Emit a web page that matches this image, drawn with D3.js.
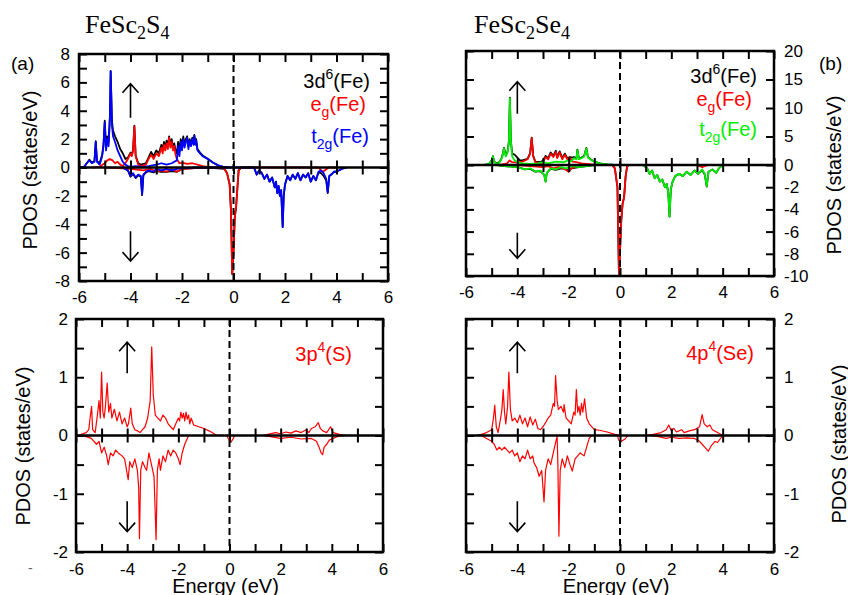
<!DOCTYPE html>
<html>
<head>
<meta charset="utf-8">
<script src="https://cdnjs.cloudflare.com/ajax/libs/d3/7.8.5/d3.min.js"></script>
<style>
body { margin: 0; background: #fff; }
text { font-family: "Liberation Sans", Arial, sans-serif; }
</style>
</head>
<body>
<div id="chart"></div>
<script>
// ---- data: [energy (eV), PDOS (states/eV)] ----

// FeSc2S4, Fe d states
var aTotUp = [[-6,0],[-5.8,0.05],[-5.7,0.3],[-5.6,0.55],[-5.5,0.35],[-5.4,0.45],[-5.35,1.85],[-5.3,0.45],[-5.2,0.3],[-5.1,0.9],[-5.05,1.6],[-5.0,3.3],[-4.95,1.5],[-4.9,2.2],[-4.85,1.8],[-4.8,3.6],[-4.77,6.8],[-4.72,3.3],[-4.68,2.6],[-4.6,2.2],[-4.5,1.8],[-4.4,1.3],[-4.3,1.0],[-4.2,0.6],[-4.1,0.7],[-4.0,1.05],[-3.95,0.85],[-3.9,1.25],[-3.85,2.95],[-3.8,0.85],[-3.7,0.3],[-3.6,0.2],[-3.4,0.3],[-3.3,0.7],[-3.2,1.1],[-3.1,0.8],[-3.0,1.2],[-2.9,1.0],[-2.8,1.6],[-2.75,1.2],[-2.7,1.8],[-2.65,1.4],[-2.6,1.9],[-2.55,1.5],[-2.5,2.2],[-2.45,1.6],[-2.4,2.0],[-2.35,1.4],[-2.3,1.7],[-2.25,1.2],[-2.2,1.0],[-2.15,1.8],[-2.1,1.1],[-2.05,2.0],[-2.0,1.5],[-1.95,2.2],[-1.9,1.6],[-1.85,2.0],[-1.8,2.2],[-1.75,1.5],[-1.7,2.0],[-1.65,1.6],[-1.6,2.1],[-1.55,1.7],[-1.52,2.3],[-1.48,1.7],[-1.45,2.0],[-1.4,1.3],[-1.3,1.05],[-1.2,0.85],[-1.0,0.62],[-0.8,0.35],[-0.6,0.15],[-0.4,0.05],[-0.2,0]];
var aEgUp = [[-5.5,0],[-5.2,0.05],[-5.0,0.3],[-4.9,0.5],[-4.8,0.6],[-4.7,0.5],[-4.6,0.3],[-4.5,0.4],[-4.4,0.2],[-4.3,0.1],[-4.2,0.3],[-4.1,0.6],[-4.0,1.0],[-3.95,0.8],[-3.9,1.2],[-3.85,2.9],[-3.8,0.8],[-3.7,0.2],[-3.6,0.1],[-3.4,0.2],[-3.3,0.6],[-3.2,0.9],[-3.1,0.6],[-3.0,1.0],[-2.9,0.8],[-2.8,1.4],[-2.75,1.0],[-2.7,1.6],[-2.65,1.2],[-2.6,1.7],[-2.55,1.3],[-2.5,2.1],[-2.45,1.4],[-2.4,1.8],[-2.35,1.2],[-2.3,1.5],[-2.25,0.9],[-2.2,0.6],[-2.1,0.3],[-2.0,0.35],[-1.8,0.25],[-1.6,0.3],[-1.4,0.2],[-1.2,0.1],[-1.0,0.05],[-0.8,0]];
var aT2gUp = [[-6,0],[-5.8,0.05],[-5.7,0.3],[-5.6,0.5],[-5.5,0.3],[-5.4,0.4],[-5.35,1.8],[-5.3,0.4],[-5.2,0.2],[-5.1,0.8],[-5.05,1.5],[-5.0,3.2],[-4.95,1.2],[-4.9,2.0],[-4.85,1.5],[-4.8,3.5],[-4.77,6.8],[-4.72,3.0],[-4.68,2.2],[-4.6,1.8],[-4.5,1.2],[-4.4,0.8],[-4.3,0.4],[-4.2,0.2],[-4.1,0.1],[-4.0,0.05],[-3.8,0.1],[-3.5,0.05],[-3.3,0.1],[-3.0,0.2],[-2.8,0.3],[-2.6,0.2],[-2.4,0.3],[-2.2,0.5],[-2.15,1.5],[-2.1,0.8],[-2.05,1.8],[-2.0,1.2],[-1.95,2.0],[-1.9,1.4],[-1.85,1.8],[-1.8,2.1],[-1.75,1.3],[-1.7,1.9],[-1.65,1.5],[-1.6,2.0],[-1.55,1.6],[-1.52,2.25],[-1.48,1.6],[-1.45,1.9],[-1.4,1.2],[-1.3,1.0],[-1.2,0.8],[-1.0,0.6],[-0.8,0.35],[-0.6,0.15],[-0.4,0.05],[-0.2,0]];
var aTotDn = [[-4.3,0],[-4.1,-0.2],[-4.0,-0.65],[-3.9,-0.45],[-3.8,-0.75],[-3.7,-0.55],[-3.6,-0.65],[-3.55,-1.95],[-3.5,-0.55],[-3.4,-0.35],[-3.3,-0.25],[-3.1,-0.35],[-3.0,-0.25],[-2.8,-0.3],[-2.6,-0.3],[-2.4,-0.25],[-2.2,-0.3],[-2.0,-0.1],[-1.5,-0.05],[-1.0,0],[-0.35,-0.1],[-0.25,-0.4],[-0.15,-1.2],[-0.1,-3.0],[-0.05,-7.5],[0.0,-6.0],[0.05,-3.5],[0.1,-2.8],[0.15,-1.5],[0.2,-0.2],[0.3,0],[0.8,0],[0.9,-0.5],[1.0,-0.2],[1.1,-0.4],[1.2,-0.8],[1.3,-0.5],[1.4,-1.0],[1.5,-0.7],[1.6,-1.4],[1.65,-1.0],[1.7,-1.8],[1.75,-1.3],[1.8,-2.0],[1.85,-1.6],[1.91,-4.2],[1.95,-2.0],[2.0,-1.2],[2.1,-0.6],[2.2,-0.9],[2.3,-0.5],[2.4,-0.8],[2.5,-0.4],[2.6,-0.9],[2.7,-0.5],[2.8,-0.7],[2.9,-0.4],[3.0,-1.0],[3.1,-0.6],[3.2,-0.9],[3.3,-0.35],[3.4,-0.4],[3.5,-0.6],[3.6,-0.9],[3.66,-1.8],[3.72,-0.6],[3.8,-0.5],[3.9,-0.3],[4.0,-0.3],[4.2,-0.1],[4.4,0]];
var aEgDn = [[-5.0,0],[-4.5,-0.05],[-4.0,-0.1],[-3.5,-0.2],[-3.2,-0.1],[-3.0,-0.3],[-2.8,-0.2],[-2.6,-0.3],[-2.4,-0.1],[-2.2,-0.3],[-2.0,-0.1],[-1.5,-0.05],[-1.0,0],[-0.5,0],[-0.35,-0.1],[-0.25,-0.4],[-0.15,-1.2],[-0.1,-3.0],[-0.05,-7.5],[0.0,-6.0],[0.05,-3.5],[0.1,-2.8],[0.15,-1.5],[0.2,-0.2],[0.3,0],[1.0,0],[3.3,0],[3.45,-0.3],[3.55,-0.2],[3.7,0],[4,0]];
var aT2gDn = [[-4.3,0],[-4.1,-0.2],[-4.0,-0.6],[-3.9,-0.4],[-3.8,-0.7],[-3.7,-0.5],[-3.6,-0.6],[-3.55,-1.9],[-3.5,-0.5],[-3.4,-0.3],[-3.3,-0.2],[-3.1,-0.3],[-3.0,-0.1],[-2.8,-0.2],[-2.6,-0.1],[-2.4,-0.2],[-2.2,-0.1],[-2.0,-0.05],[-1.5,0],[0.8,0],[0.9,-0.5],[1.0,-0.2],[1.1,-0.4],[1.2,-0.8],[1.3,-0.5],[1.4,-1.0],[1.5,-0.7],[1.6,-1.4],[1.65,-1.0],[1.7,-1.8],[1.75,-1.3],[1.8,-2.0],[1.85,-1.6],[1.91,-4.2],[1.95,-2.0],[2.0,-1.2],[2.1,-0.6],[2.2,-0.9],[2.3,-0.5],[2.4,-0.8],[2.5,-0.4],[2.6,-0.9],[2.7,-0.5],[2.8,-0.7],[2.9,-0.4],[3.0,-1.0],[3.1,-0.6],[3.2,-0.9],[3.3,-0.3],[3.4,-0.2],[3.5,-0.4],[3.6,-0.8],[3.66,-1.75],[3.72,-0.6],[3.8,-0.5],[3.9,-0.3],[4.0,-0.3],[4.2,-0.1],[4.4,0]];

// FeSc2Se4, Fe d states
var bTotUp = [[-5.3,0],[-5.1,0.2],[-5.0,0.85],[-4.95,1.55],[-4.9,0.55],[-4.8,0.3],[-4.7,0.5],[-4.6,1.3],[-4.52,3.0],[-4.45,1.7],[-4.38,2.4],[-4.33,4.1],[-4.29,11.8],[-4.25,4.2],[-4.2,2.0],[-4.1,1.8],[-4.0,1.3],[-3.9,0.8],[-3.8,0.8],[-3.6,1.1],[-3.5,2.1],[-3.44,4.8],[-3.38,1.6],[-3.3,0.6],[-3.1,0.5],[-3.0,0.8],[-2.9,1.6],[-2.8,1.2],[-2.7,2.2],[-2.6,1.6],[-2.5,2.5],[-2.45,1.4],[-2.35,2.4],[-2.25,1.2],[-2.15,2.0],[-2.05,1.2],[-1.95,1.4],[-1.85,1.3],[-1.8,1.4],[-1.7,1.1],[-1.66,2.7],[-1.6,1.1],[-1.5,1.3],[-1.4,1.6],[-1.31,3.0],[-1.25,1.4],[-1.1,0.85],[-1.0,0.62],[-0.8,0.3],[-0.5,0.1],[-0.2,0]];
var bEgUp = [[-5.0,0],[-4.6,0.1],[-4.4,0.3],[-4.3,0.8],[-4.2,0.5],[-4.0,0.4],[-3.8,0.6],[-3.6,1.0],[-3.5,2.0],[-3.44,4.7],[-3.38,1.5],[-3.3,0.5],[-3.1,0.3],[-3.0,0.5],[-2.9,1.4],[-2.8,1.0],[-2.7,2.0],[-2.6,1.4],[-2.5,2.3],[-2.45,1.2],[-2.35,2.2],[-2.25,1.0],[-2.15,1.8],[-2.05,1.0],[-1.95,1.2],[-1.85,0.6],[-1.7,0.5],[-1.5,0.3],[-1.3,0.2],[-1.0,0.05],[-0.8,0]];
var bT2gUp = [[-5.3,0],[-5.1,0.2],[-5.0,0.8],[-4.95,1.5],[-4.9,0.5],[-4.8,0.2],[-4.7,0.4],[-4.6,1.2],[-4.52,2.9],[-4.45,1.5],[-4.38,2.2],[-4.33,4],[-4.29,11.7],[-4.25,4.0],[-4.2,1.5],[-4.1,0.8],[-4.0,0.5],[-3.8,0.3],[-3.5,0.2],[-3.2,0.3],[-3.0,0.5],[-2.8,0.3],[-2.5,0.6],[-2.2,0.5],[-2.0,0.8],[-1.9,0.6],[-1.8,1.2],[-1.7,1.0],[-1.66,2.6],[-1.6,1.0],[-1.5,1.2],[-1.4,1.5],[-1.31,2.9],[-1.25,1.3],[-1.1,0.8],[-1.0,0.6],[-0.8,0.3],[-0.5,0.1],[-0.2,0]];
var bTotDn = [[-4.8,0],[-4.5,-0.1],[-4.0,-0.2],[-3.7,-0.4],[-3.5,-0.35],[-3.3,-0.6],[-3.1,-0.55],[-2.95,-0.9],[-2.9,-1.5],[-2.85,-0.7],[-2.7,-0.35],[-2.5,-0.45],[-2.3,-0.3],[-2.1,-0.35],[-2.0,-0.6],[-1.9,-0.3],[-1.6,-0.2],[-1.3,-0.1],[-1.0,0],[-0.3,0],[-0.2,-0.3],[-0.1,-2.0],[-0.04,-10],[0.05,-5.0],[0.1,-3.5],[0.16,-2.9],[0.22,-1.0],[0.28,-0.1],[0.35,0],[0.9,0],[1.06,-0.3],[1.15,-0.8],[1.25,-0.5],[1.35,-1.2],[1.45,-0.9],[1.55,-1.5],[1.65,-1.3],[1.75,-2.0],[1.82,-1.7],[1.88,-2.5],[1.93,-4.65],[1.98,-2.2],[2.05,-1.5],[2.15,-1.0],[2.3,-0.8],[2.45,-1.0],[2.6,-0.6],[2.75,-0.9],[2.9,-0.5],[3.05,-0.8],[3.2,-0.45],[3.3,-0.85],[3.38,-1.95],[3.45,-0.6],[3.6,-0.4],[3.75,-0.7],[3.85,-0.3],[4.0,0]];
var bEgDn = [[-4.0,0],[-3.5,-0.1],[-3.0,-0.2],[-2.8,-0.1],[-2.6,-0.3],[-2.4,-0.2],[-2.2,-0.3],[-2.0,-0.6],[-1.9,-0.3],[-1.7,-0.1],[-1.5,0],[-0.3,0],[-0.2,-0.3],[-0.1,-2.0],[-0.04,-10],[0.05,-5.0],[0.1,-3.5],[0.16,-2.9],[0.22,-1.0],[0.28,-0.1],[0.35,0],[3.0,0],[3.2,-0.2],[3.3,-0.1],[3.4,0]];
var bT2gDn = [[-4.8,0],[-4.5,-0.1],[-4.0,-0.2],[-3.7,-0.4],[-3.5,-0.3],[-3.3,-0.6],[-3.1,-0.5],[-2.95,-0.9],[-2.9,-1.5],[-2.85,-0.7],[-2.7,-0.3],[-2.5,-0.4],[-2.3,-0.2],[-2.1,-0.3],[-1.9,-0.1],[-1.6,-0.2],[-1.3,-0.1],[-1.0,0],[0.9,0],[1.06,-0.3],[1.15,-0.8],[1.25,-0.5],[1.35,-1.2],[1.45,-0.9],[1.55,-1.5],[1.65,-1.3],[1.75,-2.0],[1.82,-1.7],[1.88,-2.5],[1.93,-4.65],[1.98,-2.2],[2.05,-1.5],[2.15,-1.0],[2.3,-0.8],[2.45,-1.0],[2.6,-0.6],[2.75,-0.9],[2.9,-0.5],[3.05,-0.8],[3.2,-0.4],[3.3,-0.8],[3.38,-1.9],[3.45,-0.6],[3.6,-0.4],[3.75,-0.7],[3.85,-0.3],[4.0,0]];

// S 3p and Se 4p
var cUp = [[-6,0],[-5.8,0.02],[-5.6,0.05],[-5.5,0.1],[-5.45,0.3],[-5.39,0.5],[-5.35,0.1],[-5.25,0.05],[-5.15,0.4],[-5.1,0.6],[-5.05,0.3],[-5.0,1.09],[-4.95,0.4],[-4.9,0.3],[-4.85,0.5],[-4.78,0.9],[-4.72,0.4],[-4.65,0.55],[-4.6,0.3],[-4.5,0.45],[-4.4,0.25],[-4.3,0.4],[-4.2,0.2],[-4.1,0.3],[-4.0,0.15],[-3.95,0.2],[-3.86,0.47],[-3.8,0.2],[-3.7,0.1],[-3.6,0.08],[-3.5,0.05],[-3.4,0.1],[-3.3,0.15],[-3.2,0.3],[-3.1,0.6],[-3.04,1.52],[-2.98,0.7],[-2.9,0.35],[-2.8,0.3],[-2.7,0.25],[-2.6,0.35],[-2.5,0.3],[-2.4,0.2],[-2.3,0.15],[-2.2,0.1],[-2.1,0.2],[-2.0,0.3],[-1.95,0.25],[-1.9,0.4],[-1.85,0.3],[-1.8,0.38],[-1.75,0.25],[-1.7,0.4],[-1.65,0.28],[-1.6,0.35],[-1.55,0.2],[-1.5,0.3],[-1.4,0.18],[-1.2,0.15],[-1.0,0.12],[-0.8,0.08],[-0.6,0.03],[-0.5,0],[0.0,0],[1.3,0],[1.5,0.02],[1.8,0.05],[2.0,0.03],[2.2,0.06],[2.4,0.04],[2.6,0.08],[2.8,0.05],[3.0,0.1],[3.1,0.05],[3.2,0.12],[3.35,0.15],[3.47,0.22],[3.55,0.12],[3.65,0.08],[3.8,0.05],[3.95,0.15],[4.05,0.05],[4.3,0.02],[4.6,0]];
var cDn = [[-6,0],[-5.6,-0.02],[-5.4,-0.05],[-5.2,-0.15],[-5.1,-0.1],[-5.0,-0.3],[-4.9,-0.2],[-4.8,-0.35],[-4.74,-0.5],[-4.65,-0.3],[-4.55,-0.35],[-4.45,-0.25],[-4.35,-0.3],[-4.2,-0.35],[-4.1,-0.4],[-3.96,-0.76],[-3.9,-0.45],[-3.8,-0.55],[-3.7,-0.4],[-3.6,-0.6],[-3.55,-0.9],[-3.52,-1.77],[-3.47,-0.6],[-3.4,-0.45],[-3.3,-0.55],[-3.24,-0.6],[-3.15,-0.3],[-3.05,-0.5],[-2.95,-0.7],[-2.87,-1.79],[-2.82,-0.6],[-2.75,-0.4],[-2.7,-0.6],[-2.6,-0.35],[-2.5,-0.45],[-2.4,-0.25],[-2.3,-0.35],[-2.2,-0.25],[-2.1,-0.3],[-2.0,-0.4],[-1.93,-0.5],[-1.85,-0.3],[-1.75,-0.15],[-1.65,-0.05],[-1.6,0],[-0.1,0],[-0.05,-0.05],[0.05,-0.12],[0.15,-0.05],[0.2,0],[1.3,0],[1.6,-0.02],[2.0,-0.05],[2.4,-0.03],[2.8,-0.06],[3.2,-0.05],[3.4,-0.1],[3.5,-0.2],[3.58,-0.3],[3.64,-0.33],[3.7,-0.2],[3.8,-0.15],[3.9,-0.08],[4.2,-0.02],[4.5,0]];
var dUp = [[-5.6,0],[-5.4,0.02],[-5.2,0.05],[-5.0,0.1],[-4.93,0.3],[-4.88,0.52],[-4.82,0.15],[-4.75,0.05],[-4.65,0.3],[-4.6,0.45],[-4.55,0.79],[-4.5,0.4],[-4.45,0.2],[-4.38,0.5],[-4.33,1.09],[-4.27,0.45],[-4.2,0.25],[-4.1,0.3],[-4.0,0.22],[-3.9,0.35],[-3.8,0.2],[-3.7,0.3],[-3.6,0.15],[-3.5,0.32],[-3.4,0.18],[-3.3,0.28],[-3.2,0.12],[-3.1,0.1],[-3.0,0.15],[-2.9,0.22],[-2.8,0.3],[-2.7,0.35],[-2.6,0.55],[-2.55,0.5],[-2.51,1.03],[-2.45,0.6],[-2.4,0.45],[-2.3,0.5],[-2.2,0.4],[-2.18,0.53],[-2.1,0.3],[-2.0,0.25],[-1.9,0.2],[-1.8,0.4],[-1.75,0.35],[-1.7,0.79],[-1.65,0.4],[-1.6,0.5],[-1.55,0.35],[-1.5,0.55],[-1.45,0.4],[-1.38,0.63],[-1.3,0.3],[-1.2,0.2],[-1.0,0.1],[-0.8,0.09],[-0.5,0.06],[-0.2,0.02],[0,0],[1.0,0],[1.3,0.02],[1.6,0.05],[1.8,0.1],[1.9,0.18],[2.0,0.08],[2.1,0.12],[2.2,0.06],[2.4,0.1],[2.5,0.05],[2.7,0.08],[2.9,0.1],[3.1,0.15],[3.2,0.36],[3.28,0.2],[3.4,0.15],[3.5,0.18],[3.6,0.1],[3.8,0.05],[4.0,0],[5.9,0],[6,0.02]];
var dDn = [[-5.4,0],[-5.2,-0.05],[-5.0,-0.1],[-4.9,-0.15],[-4.8,-0.25],[-4.7,-0.2],[-4.6,-0.25],[-4.5,-0.2],[-4.4,-0.25],[-4.3,-0.3],[-4.2,-0.25],[-4.1,-0.35],[-4.0,-0.3],[-3.9,-0.45],[-3.8,-0.35],[-3.7,-0.4],[-3.6,-0.25],[-3.5,-0.4],[-3.4,-0.35],[-3.35,-0.47],[-3.25,-0.55],[-3.15,-0.7],[-3.05,-0.6],[-2.96,-1.14],[-2.9,-0.6],[-2.8,-0.4],[-2.7,-0.5],[-2.6,-0.3],[-2.5,-0.1],[-2.45,-0.02],[-2.42,-0.5],[-2.38,-1.73],[-2.33,-0.6],[-2.25,-0.4],[-2.15,-0.55],[-2.05,-0.35],[-1.95,-0.5],[-1.86,-0.61],[-1.75,-0.4],[-1.65,-0.35],[-1.55,-0.3],[-1.4,-0.35],[-1.3,-0.2],[-1.2,-0.05],[-1.1,0],[-0.1,0],[-0.05,-0.08],[0.05,-0.1],[0.2,-0.06],[0.3,0],[1.2,0],[1.5,-0.02],[1.8,-0.05],[2.0,-0.03],[2.3,-0.05],[2.6,-0.04],[2.9,-0.05],[3.1,-0.1],[3.2,-0.15],[3.3,-0.2],[3.44,-0.27],[3.55,-0.18],[3.7,-0.1],[3.8,-0.12],[3.9,-0.06],[4.0,0]];

// ---- ticks ----
var xLabels = [-6, -4, -2, 0, 2, 4, 6];
var xTicks = [-6, -5, -4, -3, -2, -1, 0, 1, 2, 3, 4, 5, 6];
var yTicksA = [-8, -7, -6, -5, -4, -3, -2, -1, 0, 1, 2, 3, 4, 5, 6, 7, 8];
var yLabelsA = [-8, -6, -4, -2, 0, 2, 4, 6, 8];
var yTicksB = [-10, -8, -6, -4, -2, 0, 5, 10, 15, 20];
var yTicksC = [-2, -1.5, -1, -0.5, 0, 0.5, 1, 1.5, 2];
var yLabelsC = [-2, -1, 0, 1, 2];

var W = 848, H = 595;
var svg = d3.select("#chart").append("svg")
    .attr("width", W)
    .attr("height", H)
    .style("background", "#fff");

function drawPanel(p) {
    var x = d3.scaleLinear().domain([-6, 6]).range([p.left, p.right]);
    var y = d3.scaleLinear().domain(p.yDomain).range(p.yRange);
    var g = svg.append("g");

    g.append("clipPath").attr("id", "clip" + p.name)
      .append("rect")
        .attr("x", p.left).attr("y", p.top)
        .attr("width", p.right - p.left).attr("height", p.bottom - p.top);

    var line = d3.line()
        .x(function(d) { return x(d[0]); })
        .y(function(d) { return y(d[1]); });

    var curves = g.append("g").attr("clip-path", "url(#clip" + p.name + ")");
    p.series.forEach(function(s) {
        curves.append("path")
            .attr("d", line(s.data))
            .style("fill", "none")
            .style("stroke", s.color)
            .style("stroke-width", p.lw)
            .style("stroke-linejoin", "round");
    });

    // Fermi level
    g.append("line")
        .attr("x1", x(0)).attr("x2", x(0))
        .attr("y1", p.top).attr("y2", p.bottom)
        .style("stroke", "#000")
        .style("stroke-width", 2)
        .style("stroke-dasharray", "7,4");

    // zero line with crossing ticks
    g.append("line")
        .attr("x1", p.left).attr("x2", p.right)
        .attr("y1", y(0)).attr("y2", y(0))
        .style("stroke", "#000").style("stroke-width", 2.5);
    [d3.axisBottom(x), d3.axisTop(x)].forEach(function(ax) {
        g.append("g")
            .attr("transform", "translate(0," + y(0) + ")")
            .call(ax.tickValues(xTicks).tickSize(7).tickFormat(""))
            .call(function(s) { s.select(".domain").remove(); })
            .selectAll("line").style("stroke-width", 2);
    });

    // frame ticks
    var tickStyle = function(s) {
        s.select(".domain").remove();
        s.selectAll("line").style("stroke-width", 2);
        s.selectAll("text")
            .style("font-family", "'Liberation Sans', Arial, sans-serif")
            .style("font-size", "17px")
            .style("fill", "#000");
    };
    g.append("g")
        .attr("transform", "translate(0," + p.bottom + ")")
        .call(d3.axisBottom(x).tickValues(xTicks).tickSize(-8).tickPadding(p.xPad)
            .tickFormat(function(d) { return xLabels.indexOf(d) >= 0 ? String(d) : ""; }))
        .call(tickStyle);
    g.append("g")
        .attr("transform", "translate(0," + p.top + ")")
        .call(d3.axisTop(x).tickValues(xTicks).tickSize(-8).tickFormat(""))
        .call(tickStyle);

    var labFmt = function(d) { return p.yLabels.indexOf(d) >= 0 ? String(d) : ""; };
    var leftAx = d3.axisLeft(y).tickValues(p.yTicks).tickSize(-8).tickPadding(p.yPad)
        .tickFormat(p.side == "left" ? labFmt : "");
    var rightAx = d3.axisRight(y).tickValues(p.yTicks).tickSize(-8).tickPadding(p.yPad)
        .tickFormat(p.side == "right" ? labFmt : "");
    g.append("g").attr("transform", "translate(" + p.left + ",0)").call(leftAx).call(tickStyle);
    g.append("g").attr("transform", "translate(" + p.right + ",0)").call(rightAx).call(tickStyle);

    g.append("rect")
        .attr("x", p.left).attr("y", p.top)
        .attr("width", p.right - p.left).attr("height", p.bottom - p.top)
        .style("fill", "none").style("stroke", "#000").style("stroke-width", 2.5);

    // spin arrows at E = -4
    var arrow = function(yTail, yTip) {
        var xa = x(-4), t = y(yTip), dir = y(yTail) > t ? 1 : -1;
        g.append("path")
            .attr("d", "M" + xa + "," + y(yTail) + "L" + xa + "," + t +
                       "M" + (xa - 8) + "," + (t + 9 * dir) + "L" + xa + "," + t + "L" + (xa + 8) + "," + (t + 9 * dir))
            .style("fill", "none").style("stroke", "#000").style("stroke-width", 1.6);
    };
    arrow(p.upArrow[0], p.upArrow[1]);
    arrow(p.dnArrow[0], p.dnArrow[1]);

    // y axis title
    g.append("text")
        .attr("transform", "translate(" + p.titleX + "," + p.titleY + ") rotate(-90)")
        .attr("text-anchor", "middle")
        .style("font-size", "20px")
        .text("PDOS (states/eV)");

    // legend
    p.legend.forEach(function(l) {
        var t = g.append("text")
            .attr("x", l.x).attr("y", l.y)
            .attr("text-anchor", "end")
            .style("font-size", "20px")
            .style("fill", l.color);
        t.append("tspan").text(l.base);
        t.append("tspan").attr("dy", l.sup ? -9 : 6).style("font-size", "14px").text(l.sup || l.sub);
        t.append("tspan").attr("dy", l.sup ? 9 : -6).text(l.rest);
    });

    if (p.energy) {
        g.append("text")
            .attr("x", x(0) - 4).attr("y", 593)
            .attr("text-anchor", "middle")
            .style("font-size", "20px")
            .text("Energy (eV)");
    }
}

drawPanel({
    name: "a", left: 79, right: 388, top: 54, bottom: 281,
    yDomain: [-8, 8], yRange: [281, 54], yTicks: yTicksA, yLabels: yLabelsA,
    side: "left", xPad: 10, yPad: 9, lw: 1.8,
    series: [
        {data: aTotUp, color: "#000"}, {data: aTotDn, color: "#000"},
        {data: aEgUp, color: "#ff0000"}, {data: aEgDn, color: "#ff0000"},
        {data: aT2gUp, color: "#0000ff"}, {data: aT2gDn, color: "#0000ff"}
    ],
    upArrow: [3.5, 5.9], dnArrow: [-4.5, -6.6],
    titleX: 37, titleY: 170,
    legend: [
        {x: 370, y: 88, color: "#000", base: "3d", sup: "6", rest: "(Fe)"},
        {x: 366, y: 111, color: "#ff0000", base: "e", sub: "g", rest: "(Fe)"},
        {x: 369, y: 143, color: "#0000ff", base: "t", sub: "2g", rest: "(Fe)"}
    ]
});

drawPanel({
    name: "b", left: 466, right: 774, top: 51, bottom: 276,
    yDomain: [-10, 0, 20], yRange: [276, 165, 51], yTicks: yTicksB, yLabels: yTicksB,
    side: "right", xPad: 10, yPad: 10, lw: 1.8,
    series: [
        {data: bTotUp, color: "#000"}, {data: bTotDn, color: "#000"},
        {data: bEgUp, color: "#ff0000"}, {data: bEgDn, color: "#ff0000"},
        {data: bT2gUp, color: "#00ee00"}, {data: bT2gDn, color: "#00ee00"}
    ],
    upArrow: [9.0, 14.6], dnArrow: [-6.1, -8.4],
    titleX: 841, titleY: 175,
    legend: [
        {x: 757, y: 83, color: "#000", base: "3d", sup: "6", rest: "(Fe)"},
        {x: 752, y: 106, color: "#ff0000", base: "e", sub: "g", rest: "(Fe)"},
        {x: 757, y: 136, color: "#00ee00", base: "t", sub: "2g", rest: "(Fe)"}
    ]
});

drawPanel({
    name: "c", left: 76, right: 383, top: 319, bottom: 552,
    yDomain: [-2, 2], yRange: [552, 319], yTicks: yTicksC, yLabels: yLabelsC,
    side: "left", xPad: 11, yPad: 8, lw: 1.2, energy: true,
    series: [{data: cUp, color: "#ff0000"}, {data: cDn, color: "#ff0000"}],
    upArrow: [1.07, 1.6], dnArrow: [-1.13, -1.65],
    titleX: 30, titleY: 446,
    legend: [{x: 352, y: 361, color: "#ff0000", base: "3p", sup: "4", rest: "(S)"}]
});

drawPanel({
    name: "d", left: 466, right: 774, top: 319, bottom: 552,
    yDomain: [-2, 2], yRange: [552, 319], yTicks: yTicksC, yLabels: yLabelsC,
    side: "right", xPad: 11, yPad: 10, lw: 1.2, energy: true,
    series: [{data: dUp, color: "#ff0000"}, {data: dDn, color: "#ff0000"}],
    upArrow: [1.07, 1.6], dnArrow: [-1.13, -1.65],
    titleX: 846, titleY: 444,
    legend: [{x: 754, y: 360, color: "#ff0000", base: "4p", sup: "4", rest: "(Se)"}]
});

// compound titles and panel letters
function formula(xp, parts) {
    var t = svg.append("text")
        .attr("x", xp).attr("y", 33)
        .style("font-family", "'Liberation Serif', 'Times New Roman', serif")
        .style("font-size", "26px");
    var low = false;
    parts.forEach(function(s, i) {
        var sub = i % 2 == 1;
        t.append("tspan")
            .attr("dy", sub ? 6 : (low ? -6 : 0))
            .style("font-size", sub ? "18px" : "26px")
            .text(s);
        low = sub;
    });
}
formula(85, ["FeSc", "2", "S", "4"]);
formula(474, ["FeSc", "2", "Se", "4"]);

svg.append("text").attr("x", 11).attr("y", 70).style("font-size", "19px").text("(a)");
svg.append("text").attr("x", 819).attr("y", 70).style("font-size", "19px").text("(b)");
svg.append("text").attr("x", 28).attr("y", 573).style("font-size", "14px").style("fill", "#666").text("-");
</script>
</body>
</html>
